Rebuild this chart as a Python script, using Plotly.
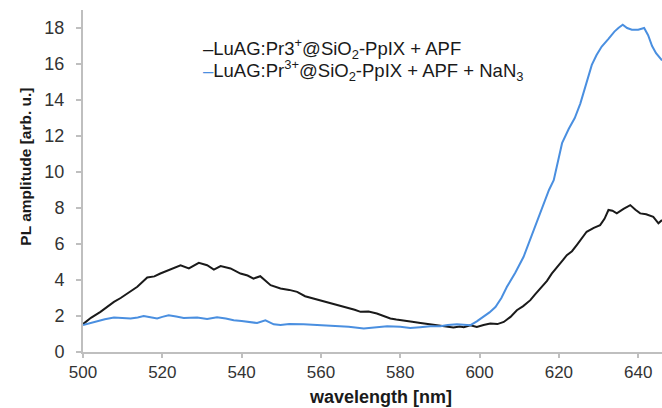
import plotly.graph_objects as go

# wavelength [nm] and PL amplitude for LuAG:Pr3+@SiO2-PpIX + APF (black)
wl_apf = [500, 502, 504.4, 506, 507.8, 509.5, 511.1, 513.7, 516.2, 518, 519.5, 521, 522.9, 524.6,
          526.7, 529.2, 531.3, 533, 534.7, 537.2, 539.7, 541.5, 543, 544.7, 547.3, 549.8, 552, 554,
          556, 558.2, 560, 562.4, 564.5, 566.6, 568.5, 570, 572, 574.1, 575.8, 577.5, 579, 580.8,
          583, 585.1, 587, 589.3, 591.3, 593.4, 595, 596, 597.7, 599.3, 601, 602.7, 604.5, 606.1,
          607.8, 609.4, 611, 612.8, 614, 615.3, 617, 618.2, 619.5, 621, 622, 623.3, 624.5, 625.8,
          627, 628.8, 630.4, 631.5, 632.5, 633.5, 634.6, 636.3, 638, 639.3, 640.5, 642, 643.8,
          645.1, 646]
pl_apf = [1.55, 1.9, 2.23, 2.5, 2.78, 3.0, 3.25, 3.62, 4.14, 4.2, 4.36, 4.5, 4.64, 4.82,
          4.64, 4.95, 4.82, 4.58, 4.77, 4.64, 4.36, 4.25, 4.08, 4.21, 3.71, 3.53, 3.45, 3.34,
          3.1, 2.97, 2.85, 2.69, 2.6, 2.47, 2.35, 2.23, 2.25, 2.14, 1.98, 1.86, 1.8, 1.76,
          1.68, 1.61, 1.55, 1.49, 1.42, 1.36, 1.42, 1.38, 1.49, 1.39, 1.5, 1.58, 1.55, 1.67,
          1.95, 2.32, 2.55, 2.88, 3.2, 3.53, 3.95, 4.35, 4.73, 5.1, 5.38, 5.6, 5.94, 6.3,
          6.68, 6.9, 7.05, 7.4, 7.89, 7.85, 7.7, 7.95, 8.16, 7.9, 7.7, 7.65, 7.51,
          7.15, 7.33]

# LuAG:Pr3+@SiO2-PpIX + APF + NaN3 (blue)
wl_nan3 = [500, 502, 503.6, 505.5, 507.8, 510, 512, 513.8, 515.3, 517, 518.7, 520, 521.6, 523.5,
           525.4, 527, 528.8, 531.3, 533.8, 536, 538, 540, 541.4, 543.9, 546, 548.1, 549.8, 552,
           555.6, 560, 564.1, 567, 570.8, 574, 576.7, 580, 582.5, 585, 587.6, 590.1, 592, 594.3,
           596, 597.7, 599.3, 601, 602.5, 604, 605.5, 606.9, 609, 611.1, 613.2, 615.3, 616.1,
           617.5, 618.7, 620, 620.8, 622.5, 624, 625.4, 627, 628.3, 629.5, 630.8, 632.5, 634,
           635, 636.1, 637.2, 638.4, 640, 641.5, 642.5, 643.5, 644.5, 646]
pl_nan3 = [1.5, 1.62, 1.73, 1.82, 1.91, 1.9, 1.86, 1.92, 2.0, 1.93, 1.86, 1.95, 2.04, 1.97,
           1.89, 1.9, 1.91, 1.84, 1.93, 1.86, 1.76, 1.72, 1.67, 1.61, 1.76, 1.54, 1.5, 1.55,
           1.54, 1.5, 1.45, 1.4, 1.3, 1.38, 1.43, 1.4, 1.34, 1.38, 1.43, 1.43, 1.5, 1.54,
           1.5, 1.49, 1.7, 1.95, 2.2, 2.5, 3.0, 3.62, 4.4, 5.29, 6.5, 7.7, 8.26,
           9.0, 9.55, 10.8, 11.6, 12.4, 13.0, 13.8, 15.0, 15.95, 16.5, 16.97, 17.4, 17.8,
           18.0, 18.18, 18.0, 17.9, 17.9, 18.0, 17.6, 17.0, 16.6, 16.2]

x_ticks = [500, 520, 540, 560, 580, 600, 620, 640]
y_ticks = [0, 2, 4, 6, 8, 10, 12, 14, 16, 18]

label_apf = '<span style="color:#1a1a1a">–</span>LuAG:Pr3<sup>+</sup>@SiO<sub>2</sub>-PpIX + APF'
label_nan3 = '<span style="color:#4a8fe0">–</span>LuAG:Pr<sup>3+</sup>@SiO<sub>2</sub>-PpIX + APF + NaN<sub>3</sub>'

FONT = "Liberation Sans, Arial, sans-serif"
AXIS_COLOR = "#bfbfbf"

fig = go.Figure()
fig.add_trace(go.Scatter(x=wl_apf, y=pl_apf, mode="lines",
                         line=dict(color="#1a1a1a", width=2), showlegend=False))
fig.add_trace(go.Scatter(x=wl_nan3, y=pl_nan3, mode="lines",
                         line=dict(color="#4a8fe0", width=2), showlegend=False))

fig.update_layout(
    width=662, height=408,
    margin=dict(l=83, r=0, t=10, b=56),
    paper_bgcolor="white", plot_bgcolor="white",
    font=dict(family=FONT, size=18, color="#333333"),
    xaxis=dict(range=[500, 646], tickvals=x_ticks, showgrid=False, zeroline=False,
               showline=True, linecolor=AXIS_COLOR, linewidth=2,
               ticks="outside", ticklen=4, tickcolor=AXIS_COLOR, tickwidth=1.5,
               tickfont=dict(size=17, color="#333333"), ticklabelstandoff=0),
    yaxis=dict(range=[0, 19], tickvals=y_ticks, showgrid=False, zeroline=False,
               showline=True, linecolor=AXIS_COLOR, linewidth=2,
               ticks="outside", ticklen=5, tickcolor=AXIS_COLOR, tickwidth=1.5,
               tickfont=dict(size=18, color="#333333"), ticklabelstandoff=8),
    annotations=[
        dict(text=label_apf, xref="paper", yref="paper", x=0.203, y=0.886,
             xanchor="left", yanchor="middle", showarrow=False,
             font=dict(size=18.5, color="#1a1a1a", family=FONT)),
        dict(text=label_nan3, xref="paper", yref="paper", x=0.203, y=0.823,
             xanchor="left", yanchor="middle", showarrow=False,
             font=dict(size=18.5, color="#1a1a1a", family=FONT)),
        dict(text="<b>wavelength [nm]</b>", xref="paper", yref="paper", x=0.513, y=-0.131,
             xanchor="center", yanchor="middle", showarrow=False,
             font=dict(size=18, color="#1a1a1a", family=FONT)),
        dict(text="<b>PL amplitude [arb. u.]</b>", xref="paper", yref="paper", x=-0.099, y=0.541,
             xanchor="center", yanchor="middle", showarrow=False, textangle=-90,
             font=dict(size=15.5, color="#1a1a1a", family=FONT)),
    ],
)

fig.write_html("out.html")
